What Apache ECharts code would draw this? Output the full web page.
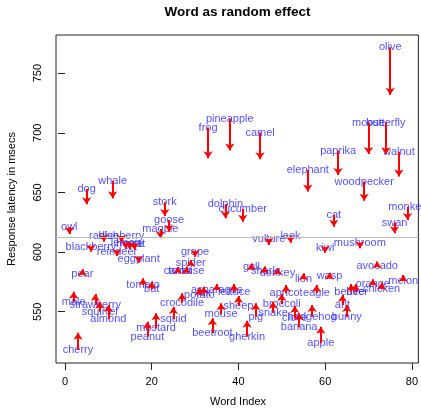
<!DOCTYPE html>
<html>
<head>
<meta charset="utf-8">
<script src="https://cdn.jsdelivr.net/npm/echarts@6/dist/echarts.min.js"></script>
<style>
html,body{margin:0;padding:0;background:#fff;}
#chart{width:421px;height:414px;}
</style>
</head>
<body>
<div id="chart"></div>
<script>
// Words in index order (index = position + 1)
var words = ["owl","mole","cherry","pear","dog","blackberry","strawberry","squirrel","radish","almond",
  "whale","reindeer","blueberry","lemon","horse","goat","eggplant","tomato","peanut","bat",
  "mustard","magpie","stork","goose","squid","carrot","crocodile","tortoise","spider","grape",
  "potato","fox","frog","beetroot","asparagus","mouse","dolphin","pineapple","lettuce","sheep",
  "cucumber","gherkin","gull","pig","camel","shark","vulture","snake","donkey","broccoli",
  "apricot","leek","clove","banana","lion","elephant","hedgehog","eagle","apple","kiwi",
  "wasp","cat","paprika","ant","bunny","beaver","bee","mushroom","woodpecker","moose",
  "orange","avocado","chicken","butterfly","olive","swan","walnut","melon","monkey"];
// Raw mean response latency (text position / arrow start)
var rawMeans = [620.8,557.9,517.9,581.6,652.9,604.5,555.6,550.0,613.8,543.6,
  659.9,600.0,613.5,607.5,607.0,606.5,594.5,572.4,529.0,568.8,
  536.1,619.4,641.8,626.9,543.6,584.4,557.5,584.4,591.1,600.3,
  564.0,566.0,704.4,531.9,568.2,547.8,640.4,711.7,566.8,555.0,
  636.2,529.0,587.8,545.8,700.2,584.4,610.7,549.2,582.7,556.2,
  565.4,613.5,544.5,536.9,577.2,668.9,545.8,565.4,523.5,603.2,
  580.0,631.1,685.1,555.6,545.3,566.8,566.8,607.4,659.1,708.6,
  573.2,588.3,568.8,708.6,771.8,624.7,684.2,576.0,638.1];
// Shrunken (random effect) estimates (arrow end)
var estimates = [615.2,566.8,532.4,585.6,640.1,600.3,564.9,558.4,608.7,555.6,
  645.1,596.7,608.5,603.0,602.5,602.0,591.0,578.0,541.6,575.2,
  548.7,611.6,630.3,617.1,554.0,587.5,565.4,587.5,593.4,596.1,
  569.6,571.0,678.7,544.5,573.2,557.0,628.4,685.1,573.2,563.2,
  625.5,542.5,590.5,557.0,677.9,588.0,606.0,558.4,586.5,564.9,
  572.4,607.9,554.8,548.7,582.2,650.7,555.6,572.4,537.4,599.5,
  582.7,621.3,664.7,564.0,555.6,573.2,573.2,603.2,643.1,682.3,
  577.2,592.0,574.3,682.0,731.8,615.8,663.3,580.8,626.9];
var grandMean = 612.7;
var xTicks = [0,20,40,60,80];
var yTicks = [550,600,650,700,750];

var textData = words.map(function(w,i){ return {name:w, value:[i+1, rawMeans[i]]}; });
var arrowData = words.map(function(w,i){ return {coords:[[i+1, rawMeans[i]],[i+1, estimates[i]]]}; });

var FONT = '"Liberation Sans", Arial, Helvetica, sans-serif';
var chart = echarts.init(document.getElementById('chart'), null, {renderer:'canvas'});
chart.setOption({
  animation:false,
  backgroundColor:'#ffffff',
  grid:{left:56, right:2, top:35, bottom:51, show:true, borderColor:'#222', borderWidth:1, backgroundColor:'transparent'},
  graphic:[
    {type:'text', left:null, x:237.5, y:12, style:{text:'Word as random effect', font:'bold 13.5px '+FONT, fill:'#000', textAlign:'center', textVerticalAlign:'middle'}},
    {type:'text', x:238, y:402, style:{text:'Word Index', font:'11px '+FONT, fill:'#000', textAlign:'center', textVerticalAlign:'middle'}},
    {type:'text', x:12, y:199, rotation:Math.PI/2, style:{text:'Response latency in msecs', font:'11px '+FONT, fill:'#000', textAlign:'center', textVerticalAlign:'middle'}}
  ],
  xAxis:{type:'value', min:-2.07, max:81.5,
    axisLine:{show:false}, splitLine:{show:false},
    axisTick:{show:true, length:7, inside:false, customValues:xTicks, lineStyle:{color:'#222'}},
    axisLabel:{show:true, customValues:xTicks, margin:13, fontSize:11, fontFamily:FONT, color:'#000'}
  },
  yAxis:{type:'value', min:507, max:782,
    axisLine:{show:false}, splitLine:{show:false},
    axisTick:{show:true, length:7, inside:false, customValues:yTicks, lineStyle:{color:'#222'}},
    axisLabel:{show:true, customValues:yTicks, rotate:90, margin:13, fontSize:11, fontFamily:FONT, color:'#000'}
  },
  series:[
    {type:'scatter', data:textData, symbol:'circle', symbolSize:1, itemStyle:{color:'rgba(0,0,0,0)'}, z:2,
      label:{show:true, position:'inside', formatter:function(p){return p.name;}, color:'#1f1fff', fontSize:11, fontFamily:FONT},
      markLine:{silent:true, symbol:['none','none'], label:{show:false}, lineStyle:{color:'#bdbdbd', width:1, type:'solid'}, data:[{yAxis:grandMean}]}
    },
    {type:'lines', coordinateSystem:'cartesian2d', data:arrowData, z:3,
      symbol:['none','arrow'], symbolSize:7,
      lineStyle:{color:'#ff0000', width:2, opacity:1, curveness:0}
    }
  ]
});
</script>
</body>
</html>
